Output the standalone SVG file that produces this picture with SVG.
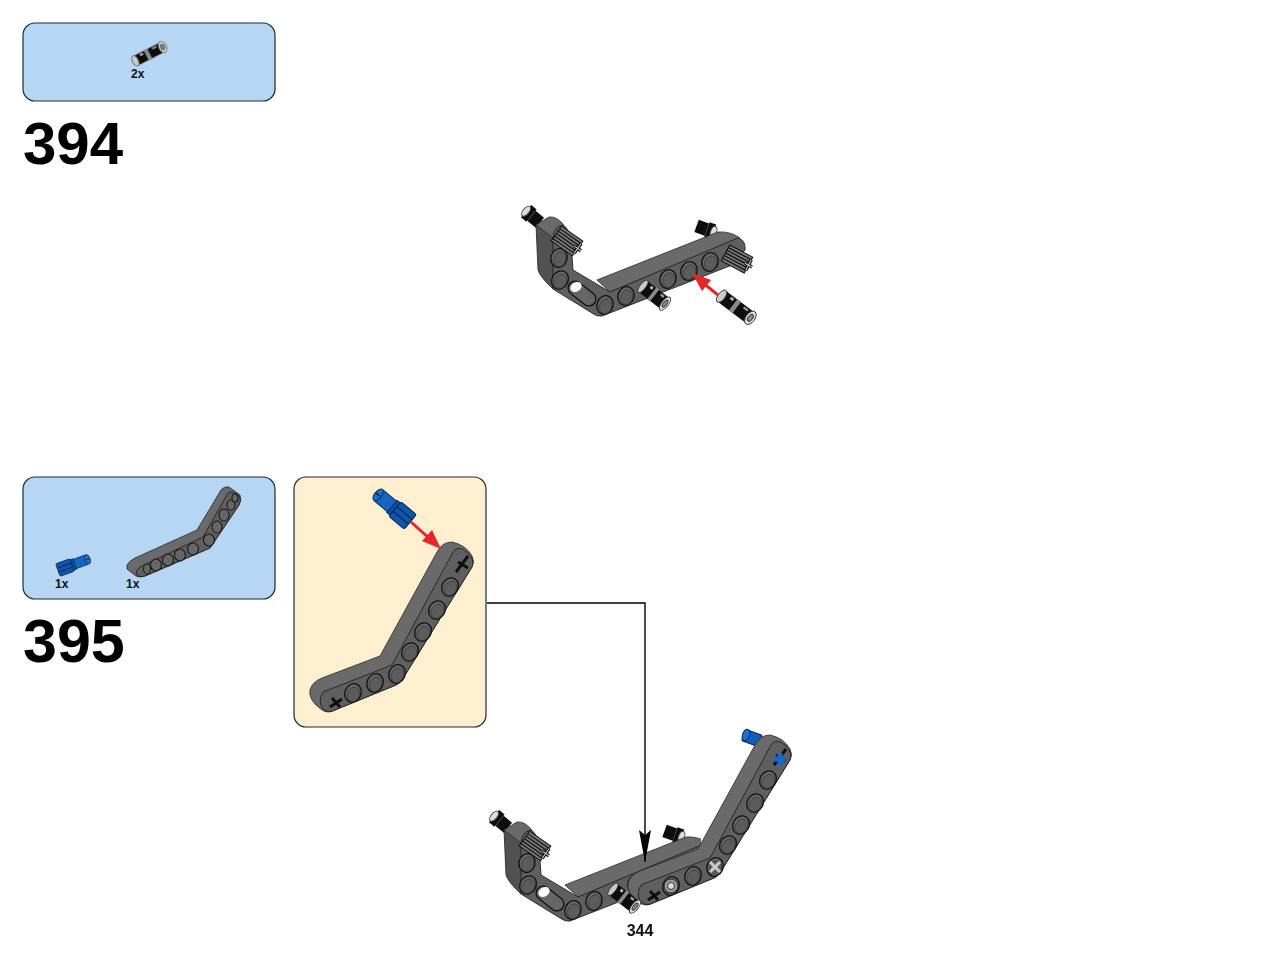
<svg xmlns="http://www.w3.org/2000/svg" width="1280" height="959" viewBox="0 0 1280 959">
<style>
.panel{stroke:#1c2b38;stroke-width:1.2}
.num{font:bold 60px "Liberation Sans",Arial,sans-serif;fill:#000}
.qty{font:bold 12px "Liberation Sans",Arial,sans-serif;fill:#111}
.page{font:bold 16px "Liberation Sans",Arial,sans-serif;fill:#111}
.top{fill:#6a6a6a;stroke:#2a2a2a;stroke-width:.8}
.front{fill:#5e5e5e;stroke:#222;stroke-width:.9}
.side{fill:#515151;stroke:#222;stroke-width:.8}
.red{stroke:#e8262a;stroke-width:3;fill:none}
.redh{fill:#e8262a}
.conn{stroke:#000;stroke-width:1.4;fill:none}
</style>
<defs>
<filter id="soft" x="-5%" y="-5%" width="110%" height="110%"><feGaussianBlur stdDeviation="0.35"/></filter>
<g id="pin">
<rect x="-20" y="-7.5" width="40" height="15" rx="2" fill="#111"/>
<rect x="-4" y="-8" width="5" height="16" fill="#8a8a8a"/>
<rect x="-11" y="-6" width="4" height="3" fill="#bbb"/>
<rect x="7" y="-6" width="6" height="2.5" fill="#999"/>
<ellipse cx="-20" cy="0" rx="4" ry="8" fill="#ccc" stroke="#333"/>
<ellipse cx="20" cy="0" rx="5" ry="8.5" fill="#ddd" stroke="#333"/>
<ellipse cx="20" cy="0" rx="2.5" ry="4.5" fill="#888" stroke="#222"/>
</g>
<g id="stub">
<rect x="-9" y="-8" width="7" height="16" fill="#111"/>
<ellipse cx="-9" cy="0" rx="3" ry="6" fill="#ddd" stroke="#444"/>
<rect x="-2" y="-6.5" width="11" height="13" fill="#111"/>
</g>
<g id="axle">
<rect x="-13" y="-9" width="26" height="18" fill="#777" stroke="#111"/>
<path d="M-13-6H13M-13-3H13M-13 0H13M-13 3H13M-13 6H13" stroke="#111" stroke-width="1.2"/>
<path d="M13-6V6M9 0H17" stroke="#111" stroke-width="3.4"/>
<path d="M13-6V6M9 0H17" stroke="#ccc" stroke-width="1"/>
</g>
<g id="hole"><ellipse rx="8" ry="9.5" fill="#666" stroke="#111" stroke-width="1.3"/><ellipse cx="1" cy="1" rx="6" ry="7.5" fill="#5c5c5c" stroke="#333" stroke-width=".6"/></g>
<g id="base">
<use href="#stub" transform="translate(533,217) rotate(40)"/>
<use href="#stub" transform="translate(705,229) rotate(200)"/>
<path class="side" d="M536,225 L538,270 Q540,277 553,289 L556,235 Z"/>
<path class="top" d="M536,225 L549,217 Q556,216 563,224 L571,242 L553,238 Z"/>
<path class="top" d="M597,280 L718,232 Q730,231 740,238 L610,292 Z"/>
<path class="front" d="M553,238 Q554,226 563,225 Q569,228 571,242 L573,270 L610,292 L738,238 Q746,240 745,250 L732,265 L602,316 Q597,317 592,313 L553,289 Z"/>
<use href="#hole" transform="translate(559,258) rotate(15)"/>
<use href="#hole" transform="translate(560,280) rotate(30)"/>
<path d="M575,288 L589,299" stroke="#111" stroke-width="15" stroke-linecap="round"/>
<path d="M575,288 L589,299" stroke="#666" stroke-width="12.5" stroke-linecap="round"/>
<ellipse cx="576" cy="287" rx="6" ry="4.5" fill="#fff" transform="rotate(-30 576 287)"/>
<use href="#hole" transform="translate(605,305) rotate(20)"/>
<use href="#hole" transform="translate(626,296) rotate(20)"/>
<use href="#hole" transform="translate(668,279) rotate(20)"/>
<use href="#hole" transform="translate(689,271) rotate(20)"/>
<use href="#hole" transform="translate(710,262) rotate(20)"/>
<use href="#axle" transform="translate(567,241) rotate(35)"/>
</g>
<g id="bent">
<path class="top" d="M310,690 Q312,682 322,678 L380,656 L437,552 Q442,542 452,542 Q466,545 472,556 Q475,562 472,567 L402,680 Q400,683 396,685 L335,710 Q328,714 322,710 Q308,700 310,690 Z"/>
<path class="front" d="M323,692 L392,665 L453,552 Q458,544 468,553 Q475,560 472,567 L402,680 Q400,683 396,685 L335,710 Q328,714 322,708 Q318,700 323,692 Z"/>
<use href="#hole" transform="translate(353,693) rotate(25)"/>
<use href="#hole" transform="translate(375,683) rotate(25)"/>
<use href="#hole" transform="translate(397,674) rotate(25)"/>
<use href="#hole" transform="translate(410,652) rotate(30)"/>
<use href="#hole" transform="translate(423,632) rotate(30)"/>
<use href="#hole" transform="translate(437,610) rotate(30)"/>
<use href="#hole" transform="translate(450,587) rotate(30)"/>
<path d="M330,707 L342,699 M332,698 L340,707" stroke="#111" stroke-width="3" fill="none"/>
<path d="M456,572 L468,556 M458,562 L468,568" stroke="#111" stroke-width="3" fill="none"/>
</g>
<g id="bluepin">
<rect x="-22" y="-7" width="20" height="14" rx="2" fill="#1666c0" stroke="#0a2f66"/>
<ellipse cx="-22" cy="0" rx="3.5" ry="7" fill="#1c72d0" stroke="#0a2f66"/>
<path d="M-25,0H-20" stroke="#08203f" stroke-width="1.5"/>
<rect x="-4" y="-8" width="5" height="16" fill="#0d4c9c" stroke="#0a2f66"/>
<rect x="0" y="-9.5" width="20" height="19" rx="2" fill="#0f56ad" stroke="#08244f"/>
<path d="M0-3H20M0 3H20" stroke="#08244f" stroke-width="1.2"/>
</g>
<clipPath id="baseclip"><rect x="460" y="780" width="241" height="160"/></clipPath>
<marker id="dart" viewBox="0 0 32 12" refX="32" refY="6" markerUnits="userSpaceOnUse" markerWidth="32" markerHeight="12" orient="auto"><path d="M0,0 L5,6 L0,12 L32,6 Z" fill="#000"/></marker>
</defs>

<g id="step394-parts">
<rect class="panel" x="23" y="23" width="252" height="78" rx="12" fill="#b6d6f3"/>
<use href="#pin" transform="translate(149,54) rotate(-27) scale(.76,.7)" filter="url(#soft)"/>
<text class="qty" x="131" y="78">2x</text>
</g>
<text id="num394" class="num" x="23" y="164">394</text>

<g id="step394-model" filter="url(#soft)">
<use href="#base"/>
<use href="#axle" transform="translate(737,259) rotate(28)"/>
<use href="#pin" transform="translate(654,295) rotate(38) scale(.7,.95)"/>
<use href="#pin" transform="translate(736,307) rotate(37) scale(.9)"/>
</g>
<g id="step394-arrow">
<path class="red" d="M718,295 L703,283"/>
<path class="redh" d="M692,273 L711,280 L702,291 Z"/>
</g>

<g id="step395-parts">
<rect class="panel" x="23" y="477" width="252" height="122" rx="12" fill="#b6d6f3"/>
<g filter="url(#soft)">
<use href="#bluepin" transform="translate(72,565) rotate(160) scale(.75,.7)"/>
<path class="top" d="M127,565 Q129,561 135,558 L197,530 L221,490 Q224,486 229,487 L240,495 Q242,500 239,505 L210,548 L145,576 Q139,578 136,576 L127,569 Z"/>
<path class="front" d="M140,567 L203,537 L228,493 Q233,490 239,496 Q242,500 239,505 L210,548 L145,576 Q139,578 136,574 Q136,570 140,567 Z"/>
<g fill="#666" stroke="#1a1a1a" stroke-width="1.1">
<ellipse cx="147" cy="569" rx="3.5" ry="5"/>
<ellipse cx="156" cy="565" rx="5.5" ry="6"/>
<ellipse cx="168" cy="560" rx="5.5" ry="6"/>
<ellipse cx="180" cy="555" rx="5.5" ry="6"/>
<ellipse cx="193" cy="549" rx="5.5" ry="6"/>
<ellipse cx="209" cy="540" rx="5.5" ry="6"/>
<ellipse cx="217" cy="527" rx="5" ry="6"/>
<ellipse cx="224" cy="515" rx="5" ry="6"/>
<ellipse cx="231" cy="505" rx="4" ry="5"/>
<ellipse cx="235" cy="498" rx="3" ry="4"/>
</g>
</g>
<text class="qty" x="55" y="588">1x</text>
<text class="qty" x="126" y="588">1x</text>
</g>
<text id="num395" class="num" x="23" y="662" style="font-size:61px">395</text>

<g id="step395-callout">
<rect class="panel" x="294" y="477" width="192" height="250" rx="12" fill="#fdefcf"/>
<g filter="url(#soft)">
<use href="#bent"/>
<use href="#bluepin" transform="translate(395,509) rotate(40)"/>
</g>
<path class="red" d="M411,522 L430,539"/>
<path class="redh" d="M441,549 L422,541 L432,530 Z"/>
</g>

<g id="step395-model" filter="url(#soft)">
<g clip-path="url(#baseclip)"><use href="#base" transform="translate(-32,605)"/></g>
<rect x="743" y="732" width="18" height="12" rx="2" fill="#0f60c0" stroke="#08244f" transform="rotate(20 752 738)"/>
<ellipse cx="746" cy="735" rx="3.5" ry="6" fill="#1c72d0" stroke="#08244f" transform="rotate(20 746 735)"/>
<use href="#bent" transform="translate(318,193)"/>
<path d="M774,759 H786 M780,753 V765" stroke="#1668c8" stroke-width="5"/>
<circle cx="671" cy="886" r="7" fill="#999" stroke="#222"/>
<circle cx="671" cy="886" r="3.5" fill="#ddd" stroke="#333"/>
<path d="M710,862 L720,872 M720,862 L710,872" stroke="#ccc" stroke-width="3"/>
<use href="#pin" transform="translate(624,898) rotate(38) scale(.7,.95)"/>
</g>

<g id="connectors">
<path class="conn" d="M487,603 H645 V862" marker-end="url(#dart)"/>
</g>
<text id="page" class="page" x="640" y="936" text-anchor="middle">344</text>
</svg>
